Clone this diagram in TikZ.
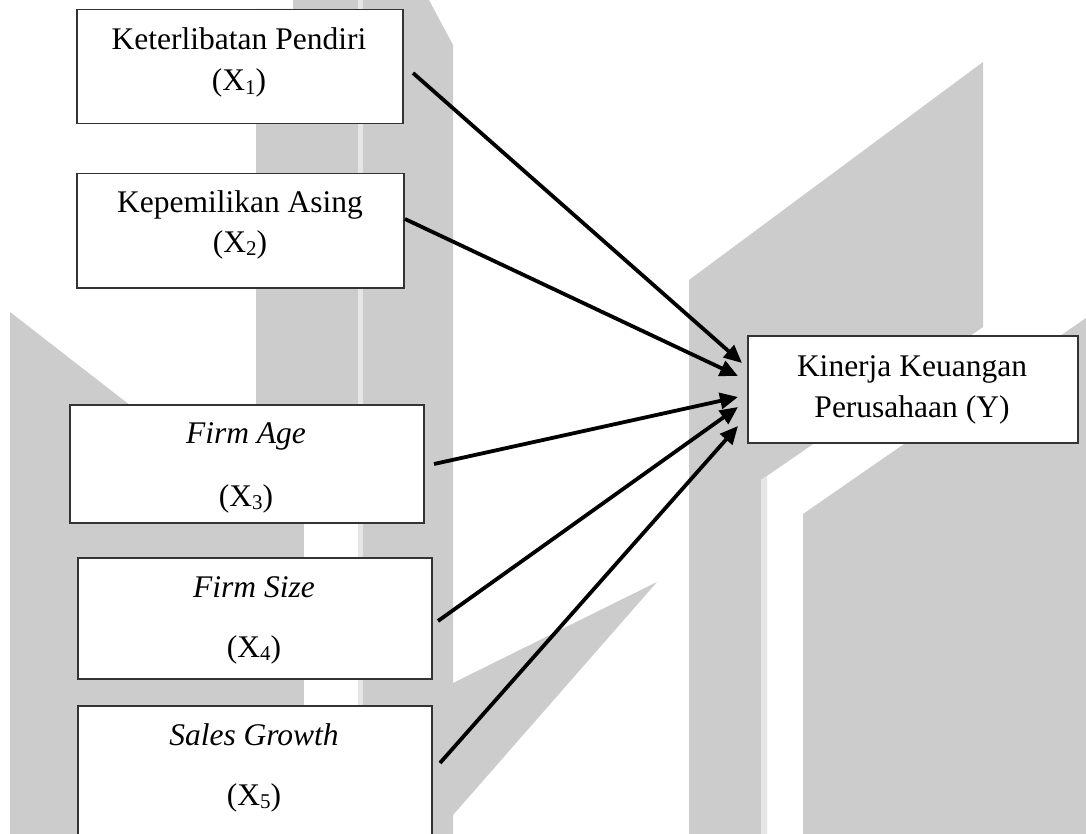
\documentclass[tikz,border=0pt]{standalone}
\usepackage{fontspec}
\setmainfont{Liberation Serif}
\usetikzlibrary{arrows.meta}
\definecolor{wm}{HTML}{CCCCCC}
\definecolor{wml}{HTML}{E6E6E6}
\newcommand\subd[1]{\raisebox{-0.12em}{\fontsize{10.5}{12}\selectfont #1}}
\begin{document}
\begin{tikzpicture}[x=0.5pt,y=-0.5pt,
  box/.style={draw=black!80, line width=0.75pt, fill=white, inner sep=0pt, anchor=north west},
  txt/.style={anchor=base, inner sep=0pt, font=\fontsize{15.75}{19}\selectfont},
  arr/.style={line width=1.9pt, -{Triangle[length=9pt,width=8pt]}}]
\useasboundingbox (0,0) rectangle (1086,834);
\fill[white] (0,0) rectangle (1086,834);
% watermark
\fill[wm] (293,0) -- (429,0) -- (453,45) -- (453,834) -- (10,834) -- (10,312) -- (256,503) -- (256,9) -- (293,9) -- cycle;
\fill[wm] (453,683) -- (657,582) -- (453,815) -- cycle;
\fill[wml] (358,0) rectangle (363,834);
\fill[white] (304,450) rectangle (358,834);
\fill[wm] (689,280) -- (983,62) -- (983,327) -- (761,480) -- (761,834) -- (689,834) -- cycle;
\fill[wml] (761,480) -- (767,476) -- (767,834) -- (761,834) -- cycle;
\fill[wm] (803,834) -- (803,514) -- (1086,318) -- (1086,834) -- cycle;
% boxes
\node[box, minimum width=163pt, minimum height=57pt] (b1) at (76,9) {};
\node[box, minimum width=163.5pt, minimum height=57pt] (b2) at (76,173) {};
\node[box, minimum width=177pt, minimum height=59pt] (b3) at (69,404) {};
\node[box, minimum width=177pt, minimum height=60.5pt] (b4) at (77,557) {};
\node[box, minimum width=177pt, minimum height=75pt] (b5) at (77,705) {};
\node[box, minimum width=165pt, minimum height=53.5pt] (by) at (747,335) {};
% texts
\node[txt] (t1a) at (239,50) {Keterlibatan Pendiri};
\node[txt] (t1b) at (239,91) {(X\subd{1})};
\node[txt] (t2a) at (240,213) {Kepemilikan Asing};
\node[txt] (t2b) at (240,252) {(X\subd{2})};
\node[txt] (t3a) at (246,443) {\itshape Firm Age};
\node[txt] (t3b) at (246,506) {(X\subd{3})};
\node[txt] (t4a) at (254,597) {\itshape Firm Size};
\node[txt] (t4b) at (254,657) {(X\subd{4})};
\node[txt] (t5a) at (254,745) {\itshape Sales Growth};
\node[txt] (t5b) at (254,805) {(X\subd{5})};
\node[txt] (tya) at (912,376) {Kinerja Keuangan};
\node[txt] (tyb) at (912,417) {Perusahaan (Y)};
% connectors
\coordinate (s1) at (413,73);
\coordinate (s2) at (405,219);
\coordinate (s3) at (434,464);
\coordinate (s4) at (438,621);
\coordinate (s5) at (440,763);
\coordinate (e1) at (742,363);
\coordinate (e2) at (738,376);
\coordinate (e3) at (738,397);
\coordinate (e4) at (738,407);
\coordinate (e5) at (738,426);
\draw[arr] (s1) -- (e1);
\draw[arr] (s2) -- (e2);
\draw[arr] (s3) -- (e3);
\draw[arr] (s4) -- (e4);
\draw[arr] (s5) -- (e5);
\end{tikzpicture}
\end{document}
